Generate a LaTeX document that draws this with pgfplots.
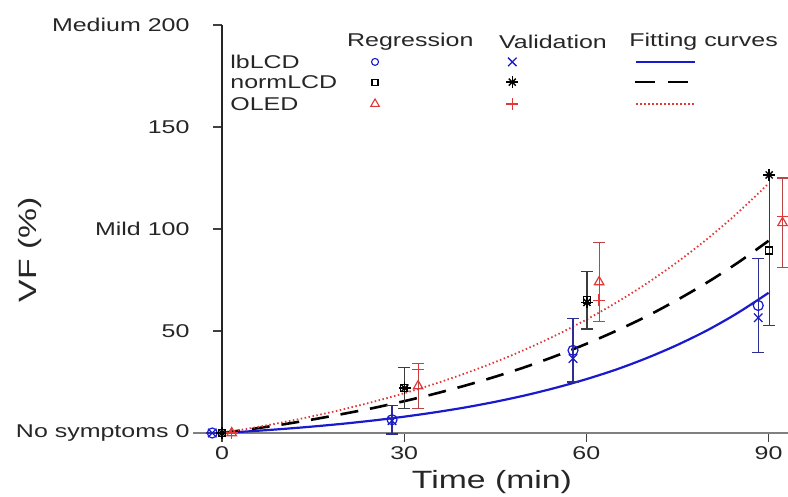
\documentclass[border=0pt]{standalone}
\usepackage{fontspec}
\setmainfont{Liberation Sans}[FakeStretch=1.35]
\usepackage{pgfplots}
\pgfplotsset{compat=1.18}
\definecolor{cblue}{RGB}{25,25,205}
\definecolor{cred}{RGB}{225,55,55}
\definecolor{ebblue}{RGB}{45,45,150}
\definecolor{ebred}{RGB}{185,70,70}
\definecolor{ebblack}{RGB}{60,60,60}

\begin{document}
\begin{tikzpicture}
\path[use as bounding box] (-222pt,-64pt) rectangle (566pt,433pt);
\begin{axis}[
    scale only axis,
    width=566pt, height=408pt,
    xmin=0, xmax=93.2, ymin=0, ymax=200,
    axis lines=left,
    axis line style={-, line width=1.3pt},
    x axis line style={black!50},
    y axis line style={black!85},
    clip=false,
    tick align=outside,
    major tick length=9pt,
    tick style={line width=1.3pt, black!75},
    xtick={0,30,60,90},
    xticklabels={0,30,60,90},
    ytick={0,50,100,150,200},
    yticklabels={No symptoms 0, 50, Mild 100, 150, Medium 200},
    ticklabel style={font=\fontsize{18.5}{22}\selectfont, text=black!85},
    yticklabel style={anchor=east, xshift=-20pt},
    xticklabel style={yshift=-1pt},
    xlabel={Time (min)},
    ylabel={VF (\%)},
    label style={font=\fontsize{25}{30}\selectfont, text=black!85},
    xlabel style={at={([yshift=-49pt]rel axis cs:0.477,0)}, anchor=center},
    ylabel style={at={([xshift=-192pt]rel axis cs:0,0.449)}, anchor=center},
]
% extension of the x axis line left of 0
\draw[black!50, line width=1.3pt] (axis cs:-4.8,0) -- (axis cs:0,0);

% fitting curves
\addplot[cblue, line width=2.2pt, smooth, no marks] coordinates {
(0,0) (5,0.92) (10,1.97) (15,3.18) (20,4.56) (25,6.16) (30,8.0) (35,10.1) (40,12.5)
(45,15.3) (50,18.5) (55,22.2) (60,26.4) (65,31.2) (70,36.8) (75,43.2) (80,50.5) (85,59.0) (90,68.7)};
\addplot[black, line width=2.6pt, smooth, no marks, dash pattern=on 18pt off 12pt] coordinates {
(0,0) (5,2.0) (10,4.2) (15,6.66) (20,9.4) (25,12.3) (30,15.6) (35,19.2) (40,23.2)
(45,27.6) (50,32.4) (55,37.8) (60,43.7) (65,50.2) (70,57.3) (75,65.3) (80,74.0) (85,83.6) (90,94.2)};
\addplot[cred, line width=1.8pt, smooth, no marks, dash pattern=on 1.5pt off 2.5pt] coordinates {
(0,0) (5,2.48) (10,5.22) (15,8.26) (20,11.63) (25,15.36) (30,19.5) (35,24.08) (40,29.16)
(45,34.78) (50,41.02) (55,47.92) (60,55.58) (65,64.06) (70,73.44) (75,83.86) (80,95.38) (85,108.16) (90,122.31)};

% regression points with error bars
\addplot[only marks, mark=o, mark size=5pt, cblue, mark options={line width=1.2pt},
    error bars/.cd, y dir=both, y explicit,
    error bar style={ebblue, line width=1.2pt},
    error mark options={rotate=90, mark size=6pt, ebblue, line width=1.2pt}]
  coordinates {(-1.6,0) +- (0,0) (28.0,6.5) +- (0,7) (57.8,40.5) +- (0,15.5) (88.3,62.5) +- (0,23)};
\addplot[only marks, mark=square, mark size=3.5pt, black, mark options={line width=1.2pt},
    error bars/.cd, y dir=both, y explicit,
    error bar style={ebblack, line width=1.2pt},
    error mark options={rotate=90, mark size=6pt, ebblack, line width=1.2pt}]
  coordinates {(0,0) +- (0,0) (30.0,22) +- (0,10) (60.1,65) +- (0,14) (90.1,89.5) +- (0,37)};
\addplot[only marks, mark=triangle, mark size=5.5pt, cred, mark options={line width=1.2pt},
    error bars/.cd, y dir=both, y explicit,
    error bar style={ebred, line width=1.2pt},
    error mark options={rotate=90, mark size=6pt, ebred, line width=1.2pt}]
  coordinates {(1.6,0) +- (0,0) (32.3,23) +- (0,11) (62.1,74) +- (0,19.5) (92.3,103) +- (0,22)};

% validation points
\addplot[only marks, mark=x, mark size=6pt, cblue, mark options={line width=1.3pt}]
  coordinates {(-1.6,0) (28.0,6) (57.8,36.5) (88.3,56.5)};
\addplot[only marks, mark=x, mark size=5pt, black, mark options={line width=1.4pt}]
  coordinates {(0,0) (30.1,22) (60.1,64) (90.1,126.5)};
\addplot[only marks, mark=+, mark size=6pt, black, mark options={line width=1.4pt}]
  coordinates {(0,0) (30.1,22) (60.1,64) (90.1,126.5)};
\addplot[only marks, mark=+, mark size=6pt, cred, mark options={line width=1.3pt}]
  coordinates {(1.6,0) (32.3,31) (62.1,65) (92.3,106)};

% legend
\node[font=\fontsize{18.5}{22}\selectfont, text=black!85] at (axis cs:31,191.7) {Regression};
\node[font=\fontsize{18.5}{22}\selectfont, text=black!85] at (axis cs:54.5,191.7) {Validation};
\node[font=\fontsize{18.5}{22}\selectfont, text=black!85] at (axis cs:79.3,191.7) {Fitting curves};
\node[font=\fontsize{18.5}{22}\selectfont, text=black!85, anchor=west] at (axis cs:0.8,181.9) {lbLCD};
\node[font=\fontsize{18.5}{22}\selectfont, text=black!85, anchor=west] at (axis cs:0.8,172) {normLCD};
\node[font=\fontsize{18.5}{22}\selectfont, text=black!85, anchor=west] at (axis cs:0.8,161.3) {OLED};
\addplot[only marks, mark=o, mark size=3.5pt, cblue, mark options={line width=1.1pt}] coordinates {(25.2,181.9)};
\addplot[only marks, mark=square, mark size=3pt, black, mark options={line width=1.1pt}] coordinates {(25.2,172)};
\addplot[only marks, mark=triangle, mark size=5pt, cred, mark options={line width=1.1pt}] coordinates {(25.2,161.3)};
\addplot[only marks, mark=x, mark size=6pt, cblue, mark options={line width=1.3pt}] coordinates {(47.8,181.9)};
\addplot[only marks, mark=x, mark size=5pt, black, mark options={line width=1.4pt}] coordinates {(47.8,172)};
\addplot[only marks, mark=+, mark size=6pt, black, mark options={line width=1.4pt}] coordinates {(47.8,172)};
\addplot[only marks, mark=+, mark size=6pt, cred, mark options={line width=1.3pt}] coordinates {(47.8,161.3)};
\addplot[cblue, line width=2.2pt, no marks] coordinates {(68.2,181.9) (77.9,181.9)};
\addplot[black, line width=2.6pt, no marks, dash pattern=on 20pt off 13pt] coordinates {(68.0,172) (78.1,172)};
\addplot[cred, line width=1.8pt, no marks, dash pattern=on 1.5pt off 2.5pt] coordinates {(68.2,161.3) (77.9,161.3)};
\end{axis}
\end{tikzpicture}
\end{document}
